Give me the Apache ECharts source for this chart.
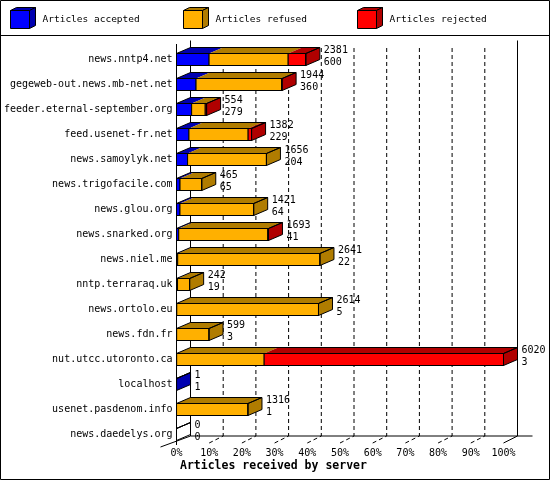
<!DOCTYPE html>
<html>
<head>
<meta charset="utf-8">
<script src="https://cdn.jsdelivr.net/npm/echarts@6/dist/echarts.min.js"></script>
<style>
html,body{margin:0;padding:0;background:#fff;}
#chart{width:550px;height:480px;}
</style>
</head>
<body>
<div id="chart"></div>
<script>
const categories = ['news.nntp4.net', 'gegeweb-out.news.mb-net.net', 'feeder.eternal-september.org', 'feed.usenet-fr.net', 'news.samoylyk.net', 'news.trigofacile.com', 'news.glou.org', 'news.snarked.org', 'news.niel.me', 'nntp.terraraq.uk', 'news.ortolo.eu', 'news.fdn.fr', 'nut.utcc.utoronto.ca', 'localhost', 'usenet.pasdenom.info', 'news.daedelys.org'];
const accepted = [600, 360, 279, 229, 204, 65, 64, 41, 22, 19, 5, 3, 3, 1, 1, 0];
const refused  = [1456, 1574, 250, 1090, 1452, 400, 1357, 1640, 2619, 223, 2609, 596, 1611, 0, 1315, 0];
const rejected = [325, 10, 25, 63, 0, 0, 0, 12, 0, 0, 0, 0, 4406, 0, 0, 0];
const seriesNames = ['Articles accepted', 'Articles refused', 'Articles rejected'];
const tickLabels = ['0%', '10%', '20%', '30%', '40%', '50%', '60%', '70%', '80%', '90%', '100%'];
const axisTitle = 'Articles received by server';

const FONT = 'DejaVu Sans Mono';
const DX = 14, DY = 6, BAR_H = 12;
const palette = [['#0000ff', '#0000b0'], ['#ffb000', '#b07c00'], ['#ff0000', '#b00000']];
const segs = [accepted, refused, rejected];
const totals = categories.map((c, i) => accepted[i] + refused[i] + rejected[i]);
const xMax = Math.max(...totals);
const xInterval = xMax / (tickLabels.length - 1);
const tickValues = tickLabels.map((t, k) => k * xInterval);

function segSeries(idx) {
  const front = palette[idx][0], dark = palette[idx][1];
  const data = categories.map((c, i) => {
    let start = 0;
    for (let k = 0; k < idx; k++) start += segs[k][i];
    const v = segs[idx][i];
    let last = v > 0 ? 1 : 0;
    for (let k = idx + 1; k < segs.length; k++) if (segs[k][i] > 0) last = 0;
    return [i, start, start + v, last];
  });
  return {
    type: 'custom', name: seriesNames[idx], data: data, z: 3,
    encode: { x: [1, 2], y: 0 },
    renderItem: function (params, api) {
      const cat = api.value(0), s = api.value(1), e = api.value(2), last = api.value(3);
      if (e <= s) return;
      const p0 = api.coord([s, cat]), p1 = api.coord([e, cat]);
      const x0 = p0[0], x1 = p1[0], yT = p0[1] - BAR_H / 2, yB = p0[1] + BAR_H / 2;
      const ch = [
        { type: 'polygon', shape: { points: [[x0, yT], [x1, yT], [x1 + DX, yT - DY], [x0 + DX, yT - DY]] }, style: { fill: dark } },
        { type: 'rect', shape: { x: x0, y: yT, width: x1 - x0, height: BAR_H }, style: { fill: front, stroke: '#000', lineWidth: 1 } }
      ];
      if (last) ch.push({ type: 'polygon', shape: { points: [[x1, yT], [x1 + DX, yT - DY], [x1 + DX, yB - DY], [x1, yB]] }, style: { fill: dark } });
      return { type: 'group', children: ch };
    }
  };
}

const outlineSeries = {
  type: 'custom', name: 'totals', z: 4,
  data: categories.map((c, i) => [i, totals[i], accepted[i]]),
  encode: { x: 1, y: 0 },
  renderItem: function (params, api) {
    const cat = api.value(0), tot = api.value(1), acc = api.value(2);
    const p0 = api.coord([0, cat]), p1 = api.coord([tot, cat]);
    const x0 = p0[0], x1 = p1[0], cy = p0[1], yT = cy - BAR_H / 2, yB = cy + BAR_H / 2;
    const st = { fill: 'none', stroke: '#000', lineWidth: 1 };
    return {
      type: 'group', children: [
        { type: 'polygon', shape: { points: [[x0, yT], [x1, yT], [x1, yB], [x0, yB]] }, style: st },
        { type: 'polygon', shape: { points: [[x0, yT], [x0 + DX, yT - DY], [x1 + DX, yT - DY], [x1, yT]] }, style: st },
        { type: 'polygon', shape: { points: [[x1, yT], [x1 + DX, yT - DY], [x1 + DX, yB - DY], [x1, yB]] }, style: st },
        { type: 'text', x: x1 + DX + 4, y: cy - 9, style: { text: String(tot), fill: '#000', font: '10px "' + FONT + '"', verticalAlign: 'middle', align: 'left' } },
        { type: 'text', x: x1 + DX + 4, y: cy + 3, style: { text: String(acc), fill: '#000', font: '10px "' + FONT + '"', verticalAlign: 'middle', align: 'left' } }
      ]
    };
  }
};

const frameSeries = {
  type: 'custom', name: 'frame', z: 1, silent: true,
  data: tickValues.map((v, k) => [v, k]),
  encode: { x: 0 },
  renderItem: function (params, api) {
    const cs = params.coordSys;
    const v = api.value(0), k = api.value(1);
    const x = api.coord([v, 0])[0];
    const ff = cs.y + cs.height - 4, fb = ff - 7;
    const topWall = 40.5, topDash = 48;
    const solid = { stroke: '#000', lineWidth: 1 };
    const dash = { stroke: '#000', lineWidth: 1, lineDash: [4, 3] };
    const ch = [];
    if (k === 0) {
      ch.push({ type: 'line', shape: { x1: x, y1: 44, x2: x, y2: ff + 2 }, style: solid });
      ch.push({ type: 'line', shape: { x1: x + DX, y1: topWall, x2: x + DX, y2: fb }, style: solid });
      ch.push({ type: 'line', shape: { x1: x - 16, y1: ff + 4, x2: x + DX, y2: fb }, style: solid });
      ch.push({ type: 'line', shape: { x1: x + DX, y1: fb, x2: cs.x + cs.width + DX + 15, y2: fb }, style: solid });
    } else if (k === tickValues.length - 1) {
      ch.push({ type: 'line', shape: { x1: x + DX, y1: topWall, x2: x + DX, y2: fb }, style: solid });
      ch.push({ type: 'line', shape: { x1: x, y1: ff, x2: x + DX, y2: fb }, style: solid });
    } else {
      ch.push({ type: 'line', shape: { x1: x + DX, y1: topDash, x2: x + DX, y2: fb }, style: dash });
      ch.push({ type: 'line', shape: { x1: x, y1: ff, x2: x + DX, y2: fb }, style: dash });
    }
    return { type: 'group', children: ch };
  }
};

function cube(x, y, front, dark) {
  const w = 19, h = 18, dx = 6, dy = 3;
  const st = (f) => ({ fill: f, stroke: '#000', lineWidth: 1 });
  return [
    { type: 'polygon', shape: { points: [[x, y], [x + dx, y - dy], [x + w + dx, y - dy], [x + w, y]] }, style: st(dark) },
    { type: 'polygon', shape: { points: [[x + w, y], [x + w + dx, y - dy], [x + w + dx, y + h - dy], [x + w, y + h]] }, style: st(dark) },
    { type: 'rect', shape: { x: x, y: y, width: w, height: h }, style: st(front) }
  ];
}
const legendX = [10.5, 183.5, 357.5];
const legendGraphics = [];
seriesNames.forEach((n, i) => {
  legendGraphics.push({ type: 'group', children: cube(legendX[i], 10.5, palette[i][0], palette[i][1]) });
  legendGraphics.push({ type: 'text', x: legendX[i] + 32, y: 20, style: { text: n, fill: '#000', font: '9.5px "' + FONT + '"', verticalAlign: 'middle' } });
});

const chart = echarts.init(document.getElementById('chart'), null, { renderer: 'canvas' });
chart.setOption({
  animation: false,
  backgroundColor: '#fff',
  title: { text: axisTitle, left: 180, top: 460, padding: 0, textStyle: { fontFamily: FONT, fontSize: 11.5, fontWeight: 'bold', color: '#000' } },
  grid: { left: 176.5, top: 47, width: 327, height: 400 },
  xAxis: {
    type: 'value', min: 0, max: xMax, interval: xInterval,
    axisLine: { show: false }, axisTick: { show: false }, splitLine: { show: false },
    axisLabel: { margin: 1, fontFamily: FONT, fontSize: 10, color: '#000', formatter: (v, i) => tickLabels[Math.round(v / xInterval)] }
  },
  yAxis: {
    type: 'category', inverse: true, data: categories,
    axisLine: { show: false }, axisTick: { show: false }, splitLine: { show: false },
    axisLabel: { margin: 4, fontFamily: FONT, fontSize: 10, color: '#000' }
  },
  graphic: [
    { type: 'rect', shape: { x: 0.5, y: 0.5, width: 549, height: 479 }, style: { fill: 'none', stroke: '#000', lineWidth: 1 }, z: 10 },
    { type: 'line', shape: { x1: 0, y1: 35.5, x2: 550, y2: 35.5 }, style: { stroke: '#000', lineWidth: 1 }, z: 10 }
  ].concat(legendGraphics),
  series: [frameSeries, segSeries(0), segSeries(1), segSeries(2), outlineSeries]
});
</script>
</body>
</html>
